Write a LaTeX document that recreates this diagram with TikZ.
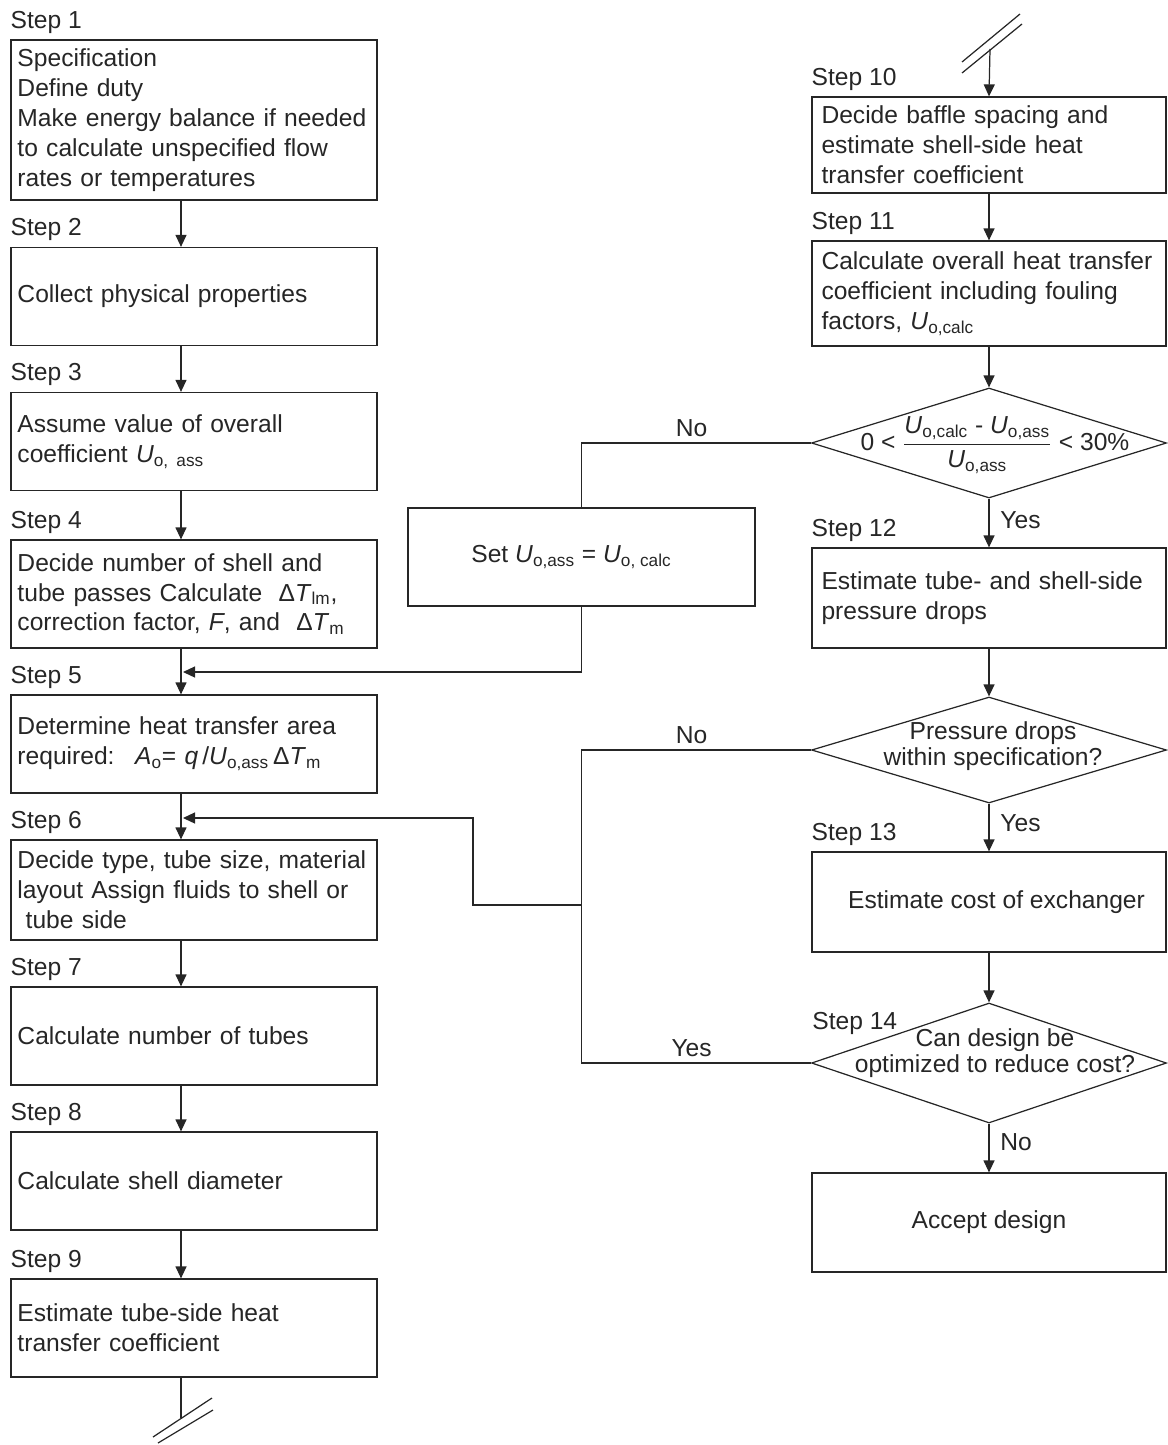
\documentclass[tikz,border=0pt]{standalone}
\usepackage{amsmath}
\usepackage{fontspec}
\setmainfont{Liberation Sans}
\usetikzlibrary{arrows.meta,positioning,shapes.geometric,calc}

\newcommand{\flowfont}{\fontsize{14pt}{17pt}\selectfont}
\newcommand{\Usub}[1]{\textit{U}\textsubscript{#1}}
\newcommand{\dT}[1]{Δ\textit{T}\textsubscript{#1}}

\begin{document}
\begin{tikzpicture}[
  x=0.2mm, y=-0.2mm,
  >={Triangle[length=2.4mm,width=2.2mm]},
  % Styles
  box/.style={draw=black!85, line width=0.7pt, font=\flowfont, text=black!85,
              inner xsep=0pt},
  stepbox/.style={box, minimum width=73.2mm, minimum height=19.6mm,
                  text width=70.6mm, align=left},
  rbox/.style={box, minimum width=70.8mm, minimum height=19.6mm,
               text width=67mm, align=left},
  cbox/.style={box, minimum height=19.6mm, align=center},
  decision/.style={diamond, draw=black!85, line width=0.7pt,
                   minimum width=71mm, minimum height=22mm, inner sep=0pt},
  dtext/.style={font=\fontsize{14pt}{15pt}\selectfont, text=black!85,
                align=center, inner sep=0pt},
  steplbl/.style={font=\flowfont, text=black!85, anchor=south west, inner xsep=0pt},
  lbl/.style={font=\flowfont, text=black!85},
  flow/.style={->, line width=0.7pt, draw=black!85},
  link/.style={line width=0.7pt, draw=black!85}
]
\useasboundingbox (0,0) rectangle (1167,1445);

% --- 1. Left column: Steps 1-9 ---
\node[stepbox, minimum height=32mm] (b1) at (194,120)
  {Specification\\Define duty\\Make energy balance if needed\\to calculate unspecified flow\\rates or temperatures};
\node[stepbox] (b2) at (194,296.5) {Collect physical properties};
\node[stepbox] (b3) at (194,441.5) {Assume value of overall\\coefficient \Usub{o, ass}};
\node[stepbox, minimum height=21.6mm] (b4) at (194,594)
  {Decide number of shell and\\tube passes Calculate \ \dT{lm},\\correction factor, \textit{F}, and \ \dT{m}};
\node[stepbox] (b5) at (194,744)
  {Determine heat transfer area\\required: \ \textit{A}\textsubscript{o}= \textit{q}\,/\Usub{o,ass}\,\dT{m}};
\node[stepbox, minimum height=20mm] (b6) at (194,890)
  {Decide type, tube size, material\\layout Assign fluids to shell or\\\ tube side};
\node[stepbox] (b7) at (194,1036) {Calculate number of tubes};
\node[stepbox] (b8) at (194,1181) {Calculate shell diameter};
\node[stepbox] (b9) at (194,1328) {Estimate tube-side heat\\transfer coefficient};

\foreach \n in {1,...,9}
  \node[steplbl] (s\n) at (b\n.north west) {Step \n};

% --- 2. Right column: Steps 10-14 ---
\node[rbox, minimum height=19.2mm] (b10) at (989,145)
  {Decide baffle spacing and\\estimate shell-side heat\\transfer coefficient};
\node[rbox, minimum height=21mm] (b11) at (989,293.5)
  {Calculate overall heat transfer\\coefficient including fouling\\factors, \Usub{o,calc}};
\node[decision] (d1) at (989,443) {};
\node[rbox, minimum height=20mm] (b12) at (989,598)
  {Estimate tube- and shell-side\\pressure drops};
\node[decision, minimum height=21.2mm] (d2) at (989,750) {};
\node[cbox, minimum width=70.8mm, minimum height=20mm] (b13) at (989,902)
  {\hspace*{3mm}Estimate cost of exchanger};
\node[decision, minimum height=24mm] (d3) at (989,1063) {};
\node[cbox, minimum width=70.8mm, minimum height=19.8mm] (b14) at (989,1222.5)
  {Accept design};

\node[dtext] (d1t) at ($(d1)+(6,2)$)
  {0 < $\dfrac{\text{\Usub{o,calc} - \Usub{o,ass}}}{\text{\Usub{o,ass}}}$ < 30\%};
\node[dtext] (d2t) at ($(d2)+(4,-4)$) {Pressure drops\\within specification?};
\node[dtext] (d3t) at ($(d3)+(6,-10)$) {Can design be\\optimized to reduce cost?};

\node[steplbl] (s10) at (b10.north west) {Step 10};
\node[steplbl] (s11) at (b11.north west) {Step 11};
\node[steplbl] (s12) at (b12.north west) {Step 12};
\node[steplbl] (s13) at (b13.north west) {Step 13};
\node[steplbl] (s14) at (812,1041) {Step 14};

% --- 3. Middle: reset assumed coefficient ---
\node[cbox, minimum width=69.4mm] (set) at (581.5,557)
  {Set \Usub{o,ass} = \Usub{o, calc}\hspace*{4mm}};

% --- 4. Flow Arrows ---
\coordinate (lx) at (181,0);
\foreach \a/\b in {b1/b2,b2/b3,b3/b4,b4/b5,b5/b6,b6/b7,b7/b8,b8/b9}
  \draw[flow] (\a.south -| lx) -- (\b.north -| lx);

\foreach \a/\b in {b10/b11,b11/d1,b12/d2,b13/d3}
  \draw[flow] (\a.south) -- (\b.north);

\draw[flow] (d1.south) -- node[lbl, right, pos=0.44, xshift=1mm] {Yes} (b12.north);
\draw[flow] (d2.south) -- node[lbl, right, pos=0.4, xshift=1mm] {Yes} (b13.north);
\draw[flow] (d3.south) -- node[lbl, right, pos=0.38, xshift=1mm] {No} (b14.north);

% Loop back to Step 5
\coordinate (j5) at (183,672);
\draw[link] (d1.west) -| node[lbl, above, pos=0.26] {No} (set.north);
\draw[flow] (set.south) |- (j5);

% Loop back to Step 6
\coordinate (m) at (set.center |- 0,905);
\coordinate (turn) at (473,905);
\coordinate (j6) at (183,818);
\draw[link] (d2.west) -| node[lbl, above, pos=0.26] {No} (m);
\draw[link] (d3.west) -| node[lbl, above, pos=0.26] {Yes} (m);
\draw[flow] (m) -- (turn) |- (j6);

% Continuation marks
\coordinate (in10) at (990,49);
\draw[flow] (in10) -- (b10.north);
\draw[link] (962,62) -- (1020,14);
\draw[link] (962,73) -- (1022,24);

\coordinate (out9) at (181,1418);
\draw[link] (b9.south -| lx) -- (out9);
\draw[link] (153,1437) -- (212,1398);
\draw[link] (158,1443) -- (213,1410);

\end{tikzpicture}
\end{document}
